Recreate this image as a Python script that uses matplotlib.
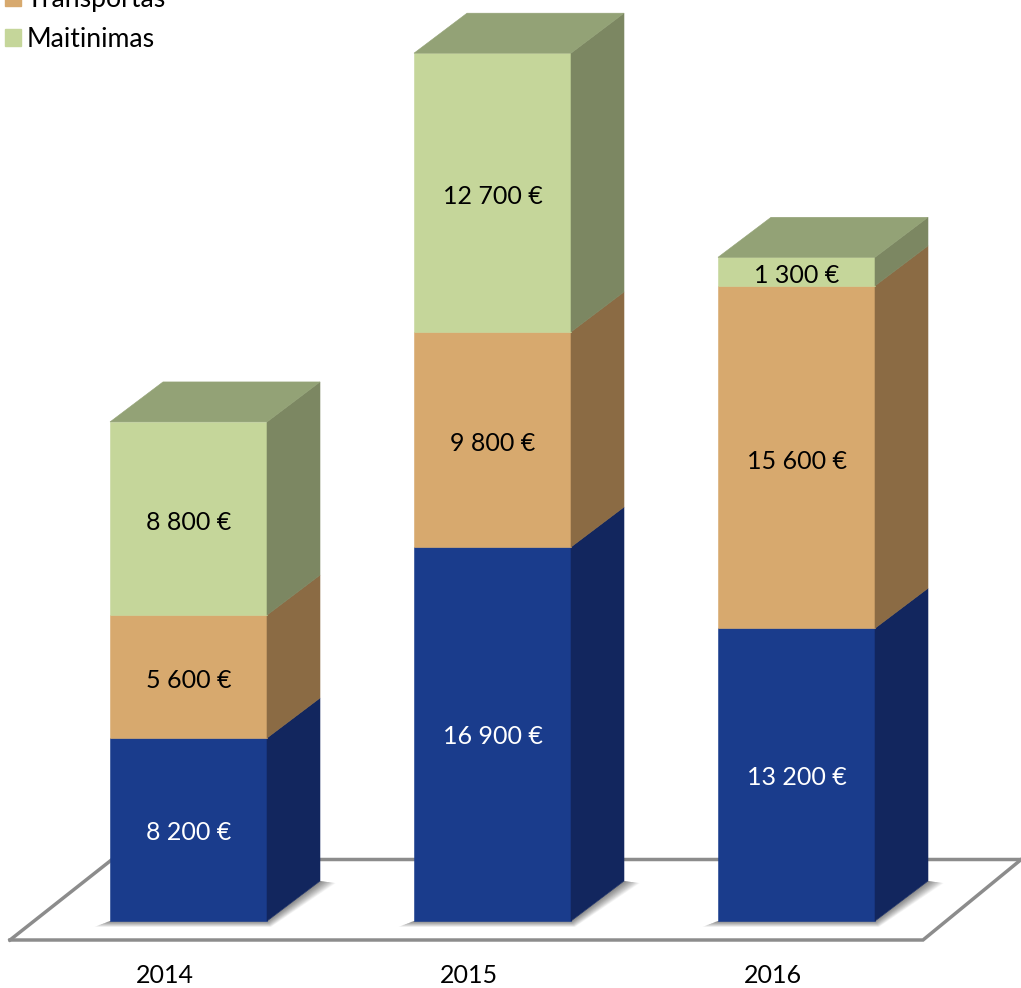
import matplotlib
matplotlib.use("Agg")
import matplotlib.pyplot as plt
from matplotlib.patches import Polygon, Patch

years = ["2014", "2015", "2016"]
blue_vals = [8200, 16900, 13200]
transportas = [5600, 9800, 15600]
maitinimas = [8800, 12700, 1300]
labels = [["8 200 €", "16 900 €", "13 200 €"],
          ["5 600 €", "9 800 €", "15 600 €"],
          ["8 800 €", "12 700 €", "1 300 €"]]

front_cols = ["#1A3C8C", "#D7A96E", "#C5D69A"]
side_cols = ["#12265E", "#8B6B44", "#7C8762"]
top_cols = ["#2A4A9A", "#A98652", "#93A276"]
text_cols = ["white", "black", "black"]

W, H = 1021, 988
px_per_x = 304.0      # one category step in pixels
px_per_y = 0.02195    # pixels per euro
x0_px = 188.5
y0_px = 918.0
half_w = 78.5 / px_per_x
dx = 53 / px_per_x
dy = 40 / px_per_y
foot = -3 / px_per_y  # bars stand a little below zero on the floor

plt.rcParams['font.family'] = ['Lato', 'DejaVu Sans']

fig = plt.figure(figsize=(W / 100, H / 100), dpi=100)
ax = fig.add_axes([0, 0, 1, 1])
ax.set_xlim(-x0_px / px_per_x, (W - x0_px) / px_per_x)
ax.set_ylim(-(H - y0_px) / px_per_y, y0_px / px_per_y)
ax.axis("off")


def face(pts, col, z):
    ax.add_patch(Polygon(pts, closed=True, facecolor=col, edgecolor=col, lw=0.4, zorder=z))


def shadow_layer(pts):
    ax.add_patch(Polygon(pts, closed=True, facecolor=(0, 0, 0, 0.028), edgecolor="none", zorder=2))


# floor
fx = lambda p: (p - x0_px) / px_per_x
fy = lambda p: (y0_px - p) / px_per_y
ax.plot([fx(10), fx(923), fx(1023)], [fy(940), fy(940), fy(858)], color="#8C8C8C", lw=2.5, zorder=1,
        solid_joinstyle="miter")
ax.plot([fx(10), fx(112), fx(1021)], [fy(940), fy(859.5), fy(859.5)], color="#8C8C8C", lw=2.5, zorder=1,
        solid_joinstyle="miter")

series = [blue_vals, transportas, maitinimas]
for i in range(len(years)):
    left, right = i - half_w, i + half_w

    # soft shadow at the foot of the bar
    steps = 20
    for s in range(steps):
        g = (steps - s) / steps
        sx = 16 * g / px_per_x
        sy = 6 * g / px_per_y
        shadow_layer([(left - sx, foot - sy), (right + 4 * g / px_per_x, foot - sy),
                      (right + dx + sx, foot + dy - 2 * g / px_per_y), (right + dx, foot + dy),
                      (right, foot), (left, foot)])

    bottom = 0
    for k, vals in enumerate(series):
        top = bottom + vals[i]
        base = foot if k == 0 else bottom
        face([(left, base), (right, base), (right, top), (left, top)], front_cols[k], 3)
        face([(right, base), (right + dx, base + dy), (right + dx, top + dy), (right, top)],
             side_cols[k], 3)
        ax.text(i, bottom + vals[i] / 2 - 190, labels[k][i], color=text_cols[k], fontsize=18,
                ha="center", va="center", zorder=5)
        bottom = top
    face([(left, bottom), (right, bottom), (right + dx, bottom + dy), (left + dx, bottom + dy)],
         top_cols[2], 3)

    ax.text(i - 24 / px_per_x, fy(975.5), years[i], fontsize=18, ha="center", va="center")

handles = [Patch(color=front_cols[1], label="Transportas"), Patch(color=front_cols[2], label="Maitinimas")]
ax.legend(handles=handles, loc="lower left", bbox_to_anchor=(5 / W, 1 - 52 / H), frameon=False,
          fontsize=19.2, borderaxespad=0, borderpad=0, handlelength=0.6, handleheight=0.6,
          handletextpad=0.2, labelspacing=0.55)

fig.savefig("out.png", dpi=100)
